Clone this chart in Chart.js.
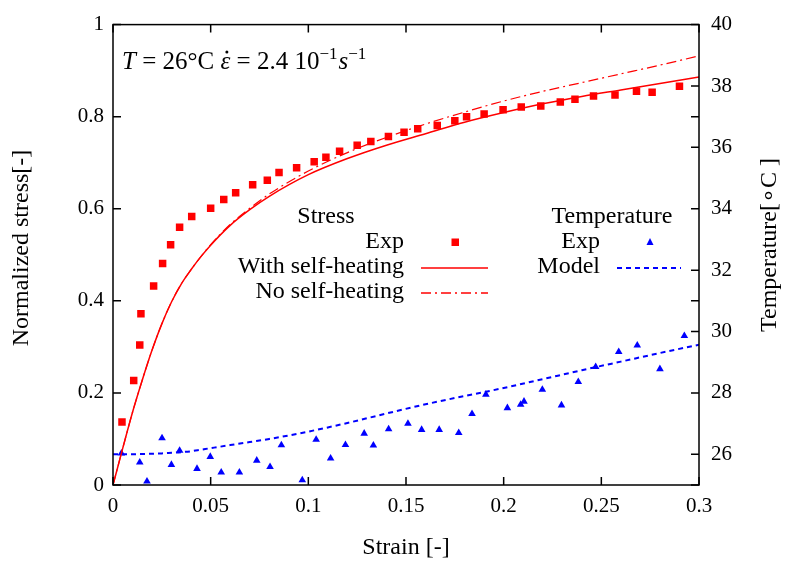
<!DOCTYPE html>
<html>
<head>
<meta charset="utf-8">
<script src="https://cdn.jsdelivr.net/npm/chart.js@4.4.1/dist/chart.umd.min.js"></script>
<style>
  html, body { margin: 0; padding: 0; background: #fff; }
  #chart { display: block; }
</style>
</head>
<body>
<canvas id="chart" width="786" height="567"></canvas>
<script>
// Normalized stress and temperature vs strain
const expStrain = [0.0046, 0.0106, 0.0137, 0.0143, 0.0208, 0.0254, 0.0295, 0.0341, 0.0403, 0.050,
    0.0567, 0.0628, 0.0715, 0.079, 0.085, 0.094, 0.103, 0.109, 0.116, 0.125,
    0.132, 0.141, 0.149, 0.156, 0.166, 0.175, 0.181, 0.190, 0.1997, 0.209,
    0.219, 0.229, 0.2365, 0.246, 0.257, 0.268, 0.276, 0.290];
const expStress = [0.137, 0.227, 0.304, 0.372, 0.432, 0.481, 0.522, 0.560, 0.583, 0.601,
    0.620, 0.635, 0.652, 0.662, 0.679, 0.689, 0.702, 0.712, 0.725, 0.738,
    0.746, 0.757, 0.766, 0.774, 0.781, 0.791, 0.800, 0.806, 0.815, 0.821,
    0.823, 0.832, 0.838, 0.845, 0.847, 0.855, 0.853, 0.866];

const tempStrain = [0.0043, 0.0137, 0.0174, 0.0251, 0.0299, 0.0341, 0.043, 0.0498, 0.0554, 0.0647,
    0.0736, 0.0804, 0.0862, 0.0969, 0.104, 0.1114, 0.119, 0.1286, 0.1333, 0.1411,
    0.151, 0.158, 0.167, 0.177, 0.1838, 0.1909, 0.2019, 0.2087, 0.2104, 0.2198,
    0.2296, 0.2382, 0.2471, 0.2589, 0.2684, 0.28, 0.2925];
const tempExp = [26.03, 25.74, 25.12, 26.53, 25.66, 26.12, 25.53, 25.92, 25.41, 25.41,
    25.80, 25.59, 26.30, 25.16, 26.48, 25.87, 26.31, 26.68, 26.29, 26.82,
    27.0, 26.8, 26.8, 26.7, 27.32, 27.95, 27.51, 27.62, 27.72, 28.11,
    27.6, 28.36, 28.85, 29.34, 29.55, 28.78, 29.86];

const modelStrain = [0, 0.005, 0.01, 0.015, 0.02, 0.025, 0.03, 0.035, 0.04, 0.045,
    0.05, 0.06, 0.07, 0.08, 0.1, 0.12, 0.14, 0.16, 0.18, 0.2,
    0.22, 0.24, 0.26, 0.28, 0.3];
const stressSelfHeating = [0, 0.08, 0.158, 0.228, 0.293, 0.350, 0.398, 0.437, 0.468, 0.496,
    0.521, 0.564, 0.598, 0.627, 0.674, 0.709, 0.738, 0.763, 0.788, 0.809,
    0.828, 0.844, 0.858, 0.872, 0.886];
const stressNoHeating = [0, 0.08, 0.158, 0.228, 0.293, 0.350, 0.398, 0.437, 0.468, 0.496,
    0.522, 0.566, 0.601, 0.632, 0.682, 0.722, 0.755, 0.784, 0.810, 0.834,
    0.855, 0.874, 0.893, 0.912, 0.932];
const tempModel = [26.0, 26.0, 26.0, 26.01, 26.02, 26.03, 26.05, 26.07, 26.1, 26.15,
    26.2, 26.3, 26.4, 26.5, 26.74, 27.02, 27.33, 27.63, 27.9, 28.16,
    28.45, 28.74, 29.02, 29.3, 29.57];

const xTicks = [0, 0.05, 0.1, 0.15, 0.2, 0.25, 0.3];
const yTicks = [0, 0.2, 0.4, 0.6, 0.8, 1];
const y2Ticks = [26, 28, 30, 32, 34, 36, 38, 40];

const FONT = '"Liberation Serif", "Times New Roman", serif';
const RED = '#ff0000';
const BLUE = '#0000ff';

const toPoints = (xs, ys) => xs.map((x, i) => ({ x: x, y: ys[i] }));
const fmt = v => String(+v.toFixed(2));

// frame, inward ticks, titles, legend and the annotation
const decorations = {
    id: 'decorations',
    afterDraw(chart) {
        const ctx = chart.ctx;
        const a = chart.chartArea;
        const { x, y, y2 } = chart.scales;
        const tick = 8;

        ctx.save();
        ctx.strokeStyle = '#000';
        ctx.lineWidth = 1.5;
        ctx.strokeRect(a.left, a.top, a.right - a.left, a.bottom - a.top);
        ctx.beginPath();
        xTicks.forEach(v => {
            const px = x.getPixelForValue(v);
            ctx.moveTo(px, a.bottom); ctx.lineTo(px, a.bottom - tick);
            ctx.moveTo(px, a.top); ctx.lineTo(px, a.top + tick);
        });
        yTicks.forEach(v => {
            const py = y.getPixelForValue(v);
            ctx.moveTo(a.left, py); ctx.lineTo(a.left + tick, py);
            ctx.moveTo(a.right, py); ctx.lineTo(a.right - tick, py);
        });
        y2Ticks.forEach(v => {
            const py = y2.getPixelForValue(v);
            ctx.moveTo(a.right, py); ctx.lineTo(a.right - tick, py);
        });
        ctx.stroke();

        // axis titles
        ctx.fillStyle = '#000';
        ctx.font = '24px ' + FONT;
        ctx.textAlign = 'center';
        ctx.textBaseline = 'middle';
        ctx.fillText('Strain [-]', 406, 548);
        ctx.save();
        ctx.translate(22, 248);
        ctx.rotate(-Math.PI / 2);
        ctx.fillText('Normalized stress[-]', 0, 0);
        ctx.restore();
        ctx.save();
        ctx.translate(770, 245);
        ctx.rotate(-Math.PI / 2);
        ctx.fillText('Temperature[\u2218C ]', 0, 0);
        ctx.restore();

        // legend
        ctx.fillText('Stress', 326, 217);
        ctx.fillText('Temperature', 612, 217);
        ctx.textAlign = 'right';
        ctx.fillText('Exp', 404, 242);
        ctx.fillText('With self-heating', 404, 267);
        ctx.fillText('No self-heating', 404, 292);
        ctx.fillText('Exp', 600, 242);
        ctx.fillText('Model', 600, 267);

        ctx.fillStyle = RED;
        ctx.fillRect(451.5, 238.5, 7.5, 7.5);
        ctx.strokeStyle = RED;
        ctx.lineWidth = 1.5;
        ctx.beginPath();
        ctx.moveTo(421, 268); ctx.lineTo(488, 268);
        ctx.stroke();
        ctx.setLineDash([10, 4, 2, 4]);
        ctx.beginPath();
        ctx.moveTo(421, 293); ctx.lineTo(488, 293);
        ctx.stroke();

        ctx.fillStyle = BLUE;
        ctx.beginPath();
        ctx.moveTo(650, 238); ctx.lineTo(653.5, 245); ctx.lineTo(646.5, 245);
        ctx.closePath();
        ctx.fill();
        ctx.strokeStyle = BLUE;
        ctx.lineWidth = 2;
        ctx.setLineDash([5, 4]);
        ctx.beginPath();
        ctx.moveTo(617, 268); ctx.lineTo(681, 268);
        ctx.stroke();
        ctx.setLineDash([]);

        // annotation: T = 26°C  eps-dot = 2.4 10^-1 s^-1
        ctx.fillStyle = '#000';
        ctx.textAlign = 'left';
        ctx.textBaseline = 'alphabetic';
        let cx = 122;
        const base = 69;
        const piece = (txt, font, dy) => {
            ctx.font = font;
            ctx.fillText(txt, cx, base + (dy || 0));
            const w = ctx.measureText(txt).width;
            cx += w;
            return w;
        };
        piece('T', 'italic 25px ' + FONT);
        piece(' = 26\u00b0C ', '25px ' + FONT);
        const epsX = cx;
        const epsW = piece('\u03b5', 'italic 25px ' + FONT);
        ctx.beginPath();
        ctx.arc(epsX + epsW / 2 + 1.5, base - 17, 1.5, 0, Math.PI * 2);
        ctx.fill();
        piece(' = 2.4 10', '25px ' + FONT);
        piece('\u22121', '17px ' + FONT, -10);
        cx += 1;
        piece('s', 'italic 25px ' + FONT);
        piece('\u22121', '17px ' + FONT, -10);
        ctx.restore();
    }
};

new Chart(document.getElementById('chart'), {
    type: 'scatter',
    data: {
        datasets: [
            {
                label: 'Stress Exp',
                data: toPoints(expStrain, expStress),
                yAxisID: 'y',
                pointStyle: 'rect',
                pointRadius: 5.3,
                backgroundColor: RED,
                borderColor: RED,
                borderWidth: 0
            },
            {
                label: 'With self-heating',
                data: toPoints(modelStrain, stressSelfHeating),
                yAxisID: 'y',
                showLine: true,
                pointRadius: 0,
                borderColor: RED,
                borderWidth: 1.5,
                cubicInterpolationMode: 'monotone'
            },
            {
                label: 'No self-heating',
                data: toPoints(modelStrain, stressNoHeating),
                yAxisID: 'y',
                showLine: true,
                pointRadius: 0,
                borderColor: RED,
                borderWidth: 1.2,
                borderDash: [10, 4, 2, 4],
                cubicInterpolationMode: 'monotone'
            },
            {
                label: 'Temperature Exp',
                data: toPoints(tempStrain, tempExp),
                yAxisID: 'y2',
                pointStyle: 'triangle',
                pointRadius: 4.4,
                backgroundColor: BLUE,
                borderColor: BLUE,
                borderWidth: 0
            },
            {
                label: 'Model',
                data: toPoints(modelStrain, tempModel),
                yAxisID: 'y2',
                showLine: true,
                pointRadius: 0,
                borderColor: BLUE,
                borderWidth: 2,
                borderDash: [5, 4],
                cubicInterpolationMode: 'monotone'
            }
        ]
    },
    options: {
        responsive: false,
        animation: false,
        devicePixelRatio: 1,
        layout: { padding: { top: 17, left: 0, right: 0, bottom: 0 } },
        plugins: {
            legend: { display: false },
            title: { display: false },
            tooltip: { enabled: false }
        },
        scales: {
            x: {
                type: 'linear',
                min: 0,
                max: 0.3,
                grid: { display: false, drawTicks: false },
                border: { display: false },
                afterBuildTicks: s => { s.ticks = xTicks.map(v => ({ value: v })); },
                afterFit: s => { s.height = 82; },
                ticks: {
                    padding: 9,
                    color: '#000',
                    font: { family: FONT, size: 21 },
                    maxRotation: 0,
                    callback: v => fmt(v)
                }
            },
            y: {
                type: 'linear',
                position: 'left',
                min: 0,
                max: 1,
                grid: { display: false, drawTicks: false },
                border: { display: false },
                afterBuildTicks: s => { s.ticks = yTicks.map(v => ({ value: v })); },
                afterFit: s => { s.width = 113; },
                ticks: {
                    padding: 9,
                    color: '#000',
                    font: { family: FONT, size: 21 },
                    callback: v => fmt(v)
                }
            },
            y2: {
                type: 'linear',
                position: 'right',
                min: 25,
                max: 40,
                grid: { display: false, drawTicks: false },
                border: { display: false },
                afterBuildTicks: s => { s.ticks = y2Ticks.map(v => ({ value: v })); },
                afterFit: s => { s.width = 87; },
                ticks: {
                    padding: 12,
                    color: '#000',
                    font: { family: FONT, size: 21 },
                    callback: v => fmt(v)
                }
            }
        }
    },
    plugins: [decorations]
});
</script>
</body>
</html>
